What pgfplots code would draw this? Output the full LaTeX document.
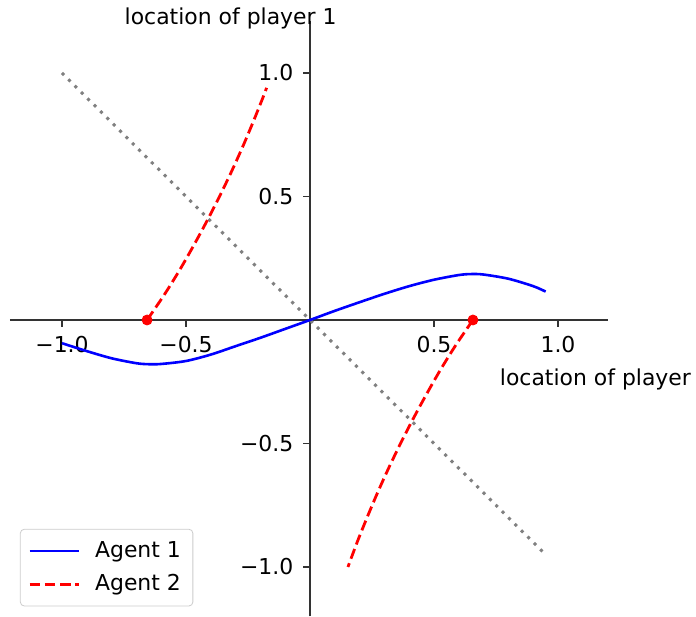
\documentclass[border=0pt]{standalone}
\usepackage{fontspec}
\setmainfont{DejaVu Sans}
\usepackage{pgfplots}
\pgfplotsset{compat=1.18}

\begin{document}
\fontsize{11}{13}\selectfont
\begin{tikzpicture}
\begin{axis}[
  x=124bp, y=123.5bp,
  xmin=-1.21, xmax=1.2, ymin=-1.2, ymax=1.21,
  axis lines=middle,
  axis line style={-, black!80, line width=0.9bp},
  tick align=outside,
  major tick length=3.5bp,
  tick style={black!80, line width=0.9bp},
  xtick={-1,-0.5,0.5,1},
  xticklabels={−1.0,−0.5,0.5,1.0},
  ytick={-1,-0.5,0.5,1},
  yticklabels={−1.0,−0.5,0.5,1.0},
  xticklabel style={yshift=-1bp},
  yticklabel style={xshift=-1bp},
  xlabel={location of player},
  ylabel={location of player 1},
  every axis x label/.style={at={(axis cs:0.735,-0.266)}, anchor=base west},
  every axis y label/.style={at={(axis cs:-0.32,1.198)}, anchor=base},
  clip=false,
  legend cell align=left,
  legend style={at={(axis description cs:0,0)}, anchor=south west,
    xshift=5bp, yshift=5bp, draw=black!20, rounded corners=2bp,
    inner sep=4bp, row sep=3bp},
  legend image code/.code={\draw[#1] (0bp,0bp) -- (24.5bp,0bp); \path (30bp,0bp);},
]
\addplot[gray, line width=1.5bp, dash pattern=on 1.5bp off 3bp, forget plot]
  coordinates {(-1,1) (0.95,-0.95)};
\addplot[blue, line width=1.3bp, smooth] coordinates {
  (-1.0,-0.094) (-0.9,-0.126) (-0.8,-0.155) (-0.7,-0.175) (-0.65,-0.179)
  (-0.6,-0.178) (-0.5,-0.166) (-0.4,-0.140) (-0.3,-0.106) (-0.2,-0.072)
  (-0.1,-0.036) (0,0) (0.1,0.037) (0.2,0.072) (0.3,0.106) (0.4,0.137)
  (0.5,0.163) (0.6,0.182) (0.65,0.186) (0.7,0.184) (0.8,0.167)
  (0.9,0.137) (0.95,0.115)};
\addlegendentry{Agent 1}
\addplot[red, line width=1.4bp, dash pattern=on 5.2bp off 2.4bp, smooth] coordinates {
  (-0.657,0) (-0.589,0.1) (-0.527,0.2) (-0.470,0.3) (-0.416,0.4) (-0.365,0.5)
  (-0.317,0.6) (-0.272,0.7) (-0.230,0.8) (-0.190,0.9) (-0.175,0.94)};
\addlegendentry{Agent 2}
\addplot[red, line width=1.4bp, dash pattern=on 5.2bp off 2.4bp, smooth, forget plot] coordinates {
  (0.657,0) (0.589,-0.1) (0.527,-0.2) (0.470,-0.3) (0.416,-0.4) (0.365,-0.5)
  (0.317,-0.6) (0.272,-0.7) (0.230,-0.8) (0.190,-0.9) (0.153,-1.0)};
\addplot[only marks, mark=*, mark size=2.5bp, red, forget plot]
  coordinates {(-0.657,0) (0.657,0)};
\end{axis}
\pgfresetboundingbox
\path[use as bounding box] ([xshift=-155bp,yshift=-148.5bp]current axis.origin)
  rectangle ([xshift=193bp,yshift=160bp]current axis.origin);
\end{tikzpicture}
\end{document}
